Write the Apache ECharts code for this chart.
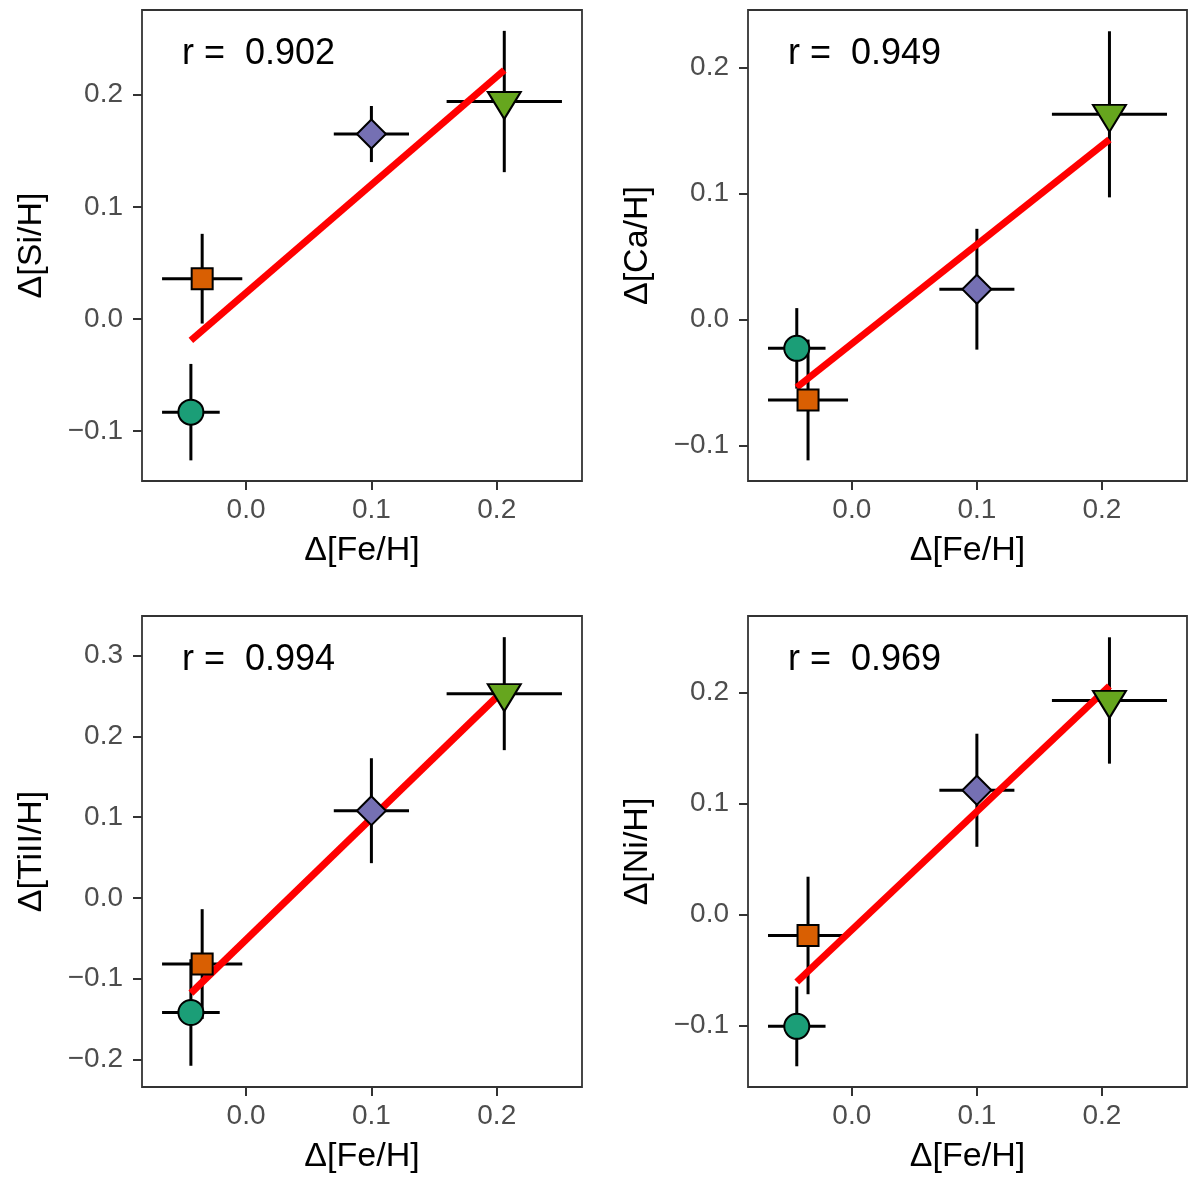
<!DOCTYPE html>
<html>
<head>
<meta charset="utf-8">
<title>Δ[X/H] vs Δ[Fe/H]</title>
<script src="https://cdn.jsdelivr.net/npm/echarts@6.0.0/dist/echarts.min.js"></script>
<style>
    html, body {margin: 0; padding: 0; background: #fff;}
    #chart {width: 1200px; height: 1186px;}
</style>
</head>
<body>
<div id="chart"></div>
<script type="text/javascript">
    // values (same four stars in every panel)
    let feH = [-0.044, -0.035, 0.100, 0.206];
    let feErr = [0.023, 0.032, 0.030, 0.046];

    let siH = [-0.083, 0.036, 0.165, 0.194];
    let siErr = [0.043, 0.040, 0.025, 0.063];
    let caH = [-0.023, -0.064, 0.024, 0.163];
    let caErr = [0.032, 0.048, 0.048, 0.066];
    let tiH = [-0.142, -0.082, 0.108, 0.253];
    let tiErr = [0.066, 0.068, 0.065, 0.070];
    let niH = [-0.101, -0.019, 0.112, 0.193];
    let niErr = [0.036, 0.053, 0.051, 0.057];

    // ends of the fitted lines
    let fitX = [-0.044, 0.206];
    let fitSi = [-0.019, 0.222];
    let fitCa = [-0.054, 0.143];
    let fitTi = [-0.118, 0.258];
    let fitNi = [-0.061, 0.206];

    let rValues = ['0.902', '0.949', '0.994', '0.969'];
    let yNames = ['Δ[Si/H]', 'Δ[Ca/H]', 'Δ[TiII/H]', 'Δ[Ni/H]'];
    let xTicks = [0.0, 0.1, 0.2];
    let yTicksSi = [-0.1, 0.0, 0.1, 0.2];
    let yTicksCa = [-0.1, 0.0, 0.1, 0.2];
    let yTicksTi = [-0.2, -0.1, 0.0, 0.1, 0.2, 0.3];
    let yTicksNi = [-0.1, 0.0, 0.1, 0.2];

    let FONT = "'Liberation Sans', Arial, Helvetica, sans-serif";
    let pointStyle = [
        {symbol: 'circle', size: 25, color: '#1B9E77', offset: [0, 0]},
        {symbol: 'rect', size: 21, color: '#D95F02', offset: [0, 0]},
        {symbol: 'diamond', size: 29, color: '#7570B3', offset: [0, 0]},
        {symbol: 'path://M0,0 L2,0 L1,1.6 Z', size: [33, 27], color: '#66A61E', offset: [0, 4]}
    ];

    let panels = [
        {y: siH, err: siErr, fit: fitSi, ticks: yTicksSi, range: [-0.1444, 0.2756], left: 142, top: 10, width: 440},
        {y: caH, err: caErr, fit: fitCa, ticks: yTicksCa, range: [-0.1284, 0.2459], left: 748, top: 10, width: 439},
        {y: tiH, err: tiErr, fit: fitTi, ticks: yTicksTi, range: [-0.2343, 0.3492], left: 142, top: 616, width: 440},
        {y: niH, err: niErr, fit: fitNi, ticks: yTicksNi, range: [-0.1557, 0.2692], left: 748, top: 616, width: 439}
    ];

    function fmt(v) {
        return (v < 0 ? '\u2212' : '') + Math.abs(v).toFixed(1);
    }

    function renderErr(params, api) {
        let x = api.value(0), y = api.value(1), ex = api.value(2), ey = api.value(3);
        let l = api.coord([x - ex, y]), r = api.coord([x + ex, y]);
        let t = api.coord([x, y + ey]), b = api.coord([x, y - ey]);
        let style = {stroke: '#000', lineWidth: 3};
        return {
            type: 'group',
            children: [
                {type: 'line', shape: {x1: l[0], y1: l[1], x2: r[0], y2: r[1]}, style: style},
                {type: 'line', shape: {x1: t[0], y1: t[1], x2: b[0], y2: b[1]}, style: style}
            ]
        };
    }

    let grid = [], xAxis = [], yAxis = [], series = [], graphic = [];
    panels.forEach(function (p, i) {
        grid.push({
            left: p.left, top: p.top, width: p.width, height: 471,
            show: true, borderColor: '#333', borderWidth: 1.8, backgroundColor: '#fff'
        });
        xAxis.push({
            gridIndex: i, type: 'value', min: -0.083, max: 0.268,
            name: 'Δ[Fe/H]', nameLocation: 'middle', nameGap: 53,
            nameTextStyle: {color: '#000', fontSize: 34, fontFamily: FONT},
            axisLine: {show: false, onZero: false},
            axisTick: {show: true, length: 9, customValues: xTicks, lineStyle: {color: '#333', width: 2}},
            axisLabel: {customValues: xTicks, margin: 15, color: '#4D4D4D', fontSize: 28, fontFamily: FONT, formatter: fmt},
            splitLine: {show: false}
        });
        yAxis.push({
            gridIndex: i, type: 'value', min: p.range[0], max: p.range[1],
            name: yNames[i], nameLocation: 'middle', nameGap: 93,
            nameTextStyle: {color: '#000', fontSize: 34, fontFamily: FONT},
            axisLine: {show: false, onZero: false},
            axisTick: {show: true, length: 9, customValues: p.ticks, lineStyle: {color: '#333', width: 2}},
            axisLabel: {customValues: p.ticks, margin: 19, color: '#4D4D4D', fontSize: 28, fontFamily: FONT, formatter: fmt},
            splitLine: {show: false}
        });

        let errData = feH.map(function (x, k) {
            return [x, p.y[k], feErr[k], p.err[k]];
        });
        series.push({
            type: 'custom', xAxisIndex: i, yAxisIndex: i, z: 1,
            renderItem: renderErr, encode: {x: 0, y: 1}, data: errData, silent: true
        });
        series.push({
            type: 'line', xAxisIndex: i, yAxisIndex: i, z: 2, symbol: 'none', silent: true,
            lineStyle: {color: '#FF0000', width: 7, cap: 'butt'},
            data: [[fitX[0], p.fit[0]], [fitX[1], p.fit[1]]]
        });
        series.push({
            type: 'scatter', xAxisIndex: i, yAxisIndex: i, z: 3, silent: true,
            data: feH.map(function (x, k) {
                let s = pointStyle[k];
                return {
                    value: [x, p.y[k]],
                    symbol: s.symbol, symbolSize: s.size, symbolOffset: s.offset,
                    itemStyle: {color: s.color, borderColor: '#000', borderWidth: 2, opacity: 1}
                };
            })
        });
        graphic.push({
            type: 'text', left: p.left + 40, top: p.top + 26,
            style: {text: 'r =  ' + rValues[i], font: '36px ' + FONT, fill: '#000'}
        });
    });

    let myChart = echarts.init(document.getElementById('chart'));
    myChart.setOption({
        animation: false,
        backgroundColor: '#fff',
        grid: grid,
        xAxis: xAxis,
        yAxis: yAxis,
        series: series,
        graphic: graphic
    });
</script>
</body>
</html>
